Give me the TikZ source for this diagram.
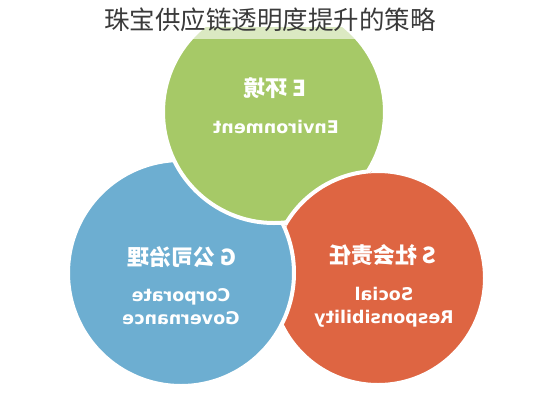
\documentclass[tikz,border=0pt]{standalone}
\usepackage{fontspec}
\setmainfont{DejaVu Sans}
\newfontfamily\cjk{Noto Sans CJK SC}
\definecolor{greenc}{HTML}{A6C967}
\definecolor{bluec}{HTML}{6DAED1}
\definecolor{redc}{HTML}{DE6542}
\definecolor{titlec}{HTML}{3A3A3A}
\tikzset{
  disc/.style={draw=white, line width=4pt},
  mir/.style={xscale=-1},
  head/.style={mir, text=white, font=\cjk\bfseries\fontsize{22}{24}\selectfont, inner sep=0pt},
  sub/.style={mir, text=white, font=\bfseries\fontsize{17.5}{23}\selectfont, inner sep=0pt, align=center},
}
\begin{document}
\begin{tikzpicture}[x=1pt,y=-1pt]
\useasboundingbox (0,0) rectangle (540,400);
\fill[white] (0,0) rectangle (540,400);
\coordinate (gc) at (274,112);
\coordinate (bc) at (181,273);
\coordinate (rc) at (378,278);
% circles: green over blue, blue over red, red over green
\fill[redc, disc] (rc) circle[radius=107pt];
\fill[bluec, disc] (bc) circle[radius=113pt];
\fill[greenc, disc] (gc) circle[radius=111pt];
\begin{scope}
  \clip (gc) circle[radius=114pt];
  \fill[redc, disc] (rc) circle[radius=107pt];
\end{scope}
% title band
\fill[white] (0,0) rectangle (540,27);
\fill[white, opacity=0.6] (0,27) rectangle (540,39);
\node[font=\cjk\fontsize{25.5}{28}\selectfont, text=titlec, inner sep=0pt] (title) at (270,20) {珠宝供应链透明度提升的策略};
% green
\node[head] (eh) at (275,88) {E 环境};
\node[sub] (es) at (276,127) {Environment};
% blue
\node[head] (gh) at (182,257) {G 公司治理};
\node[sub] (gs) at (181,307) {Corporate\\Governance};
% red
\node[head] (sh) at (383,255) {S 社会责任};
\node[sub] (ss) at (384,307) {Social\\Responsibility};
\end{tikzpicture}
\end{document}
